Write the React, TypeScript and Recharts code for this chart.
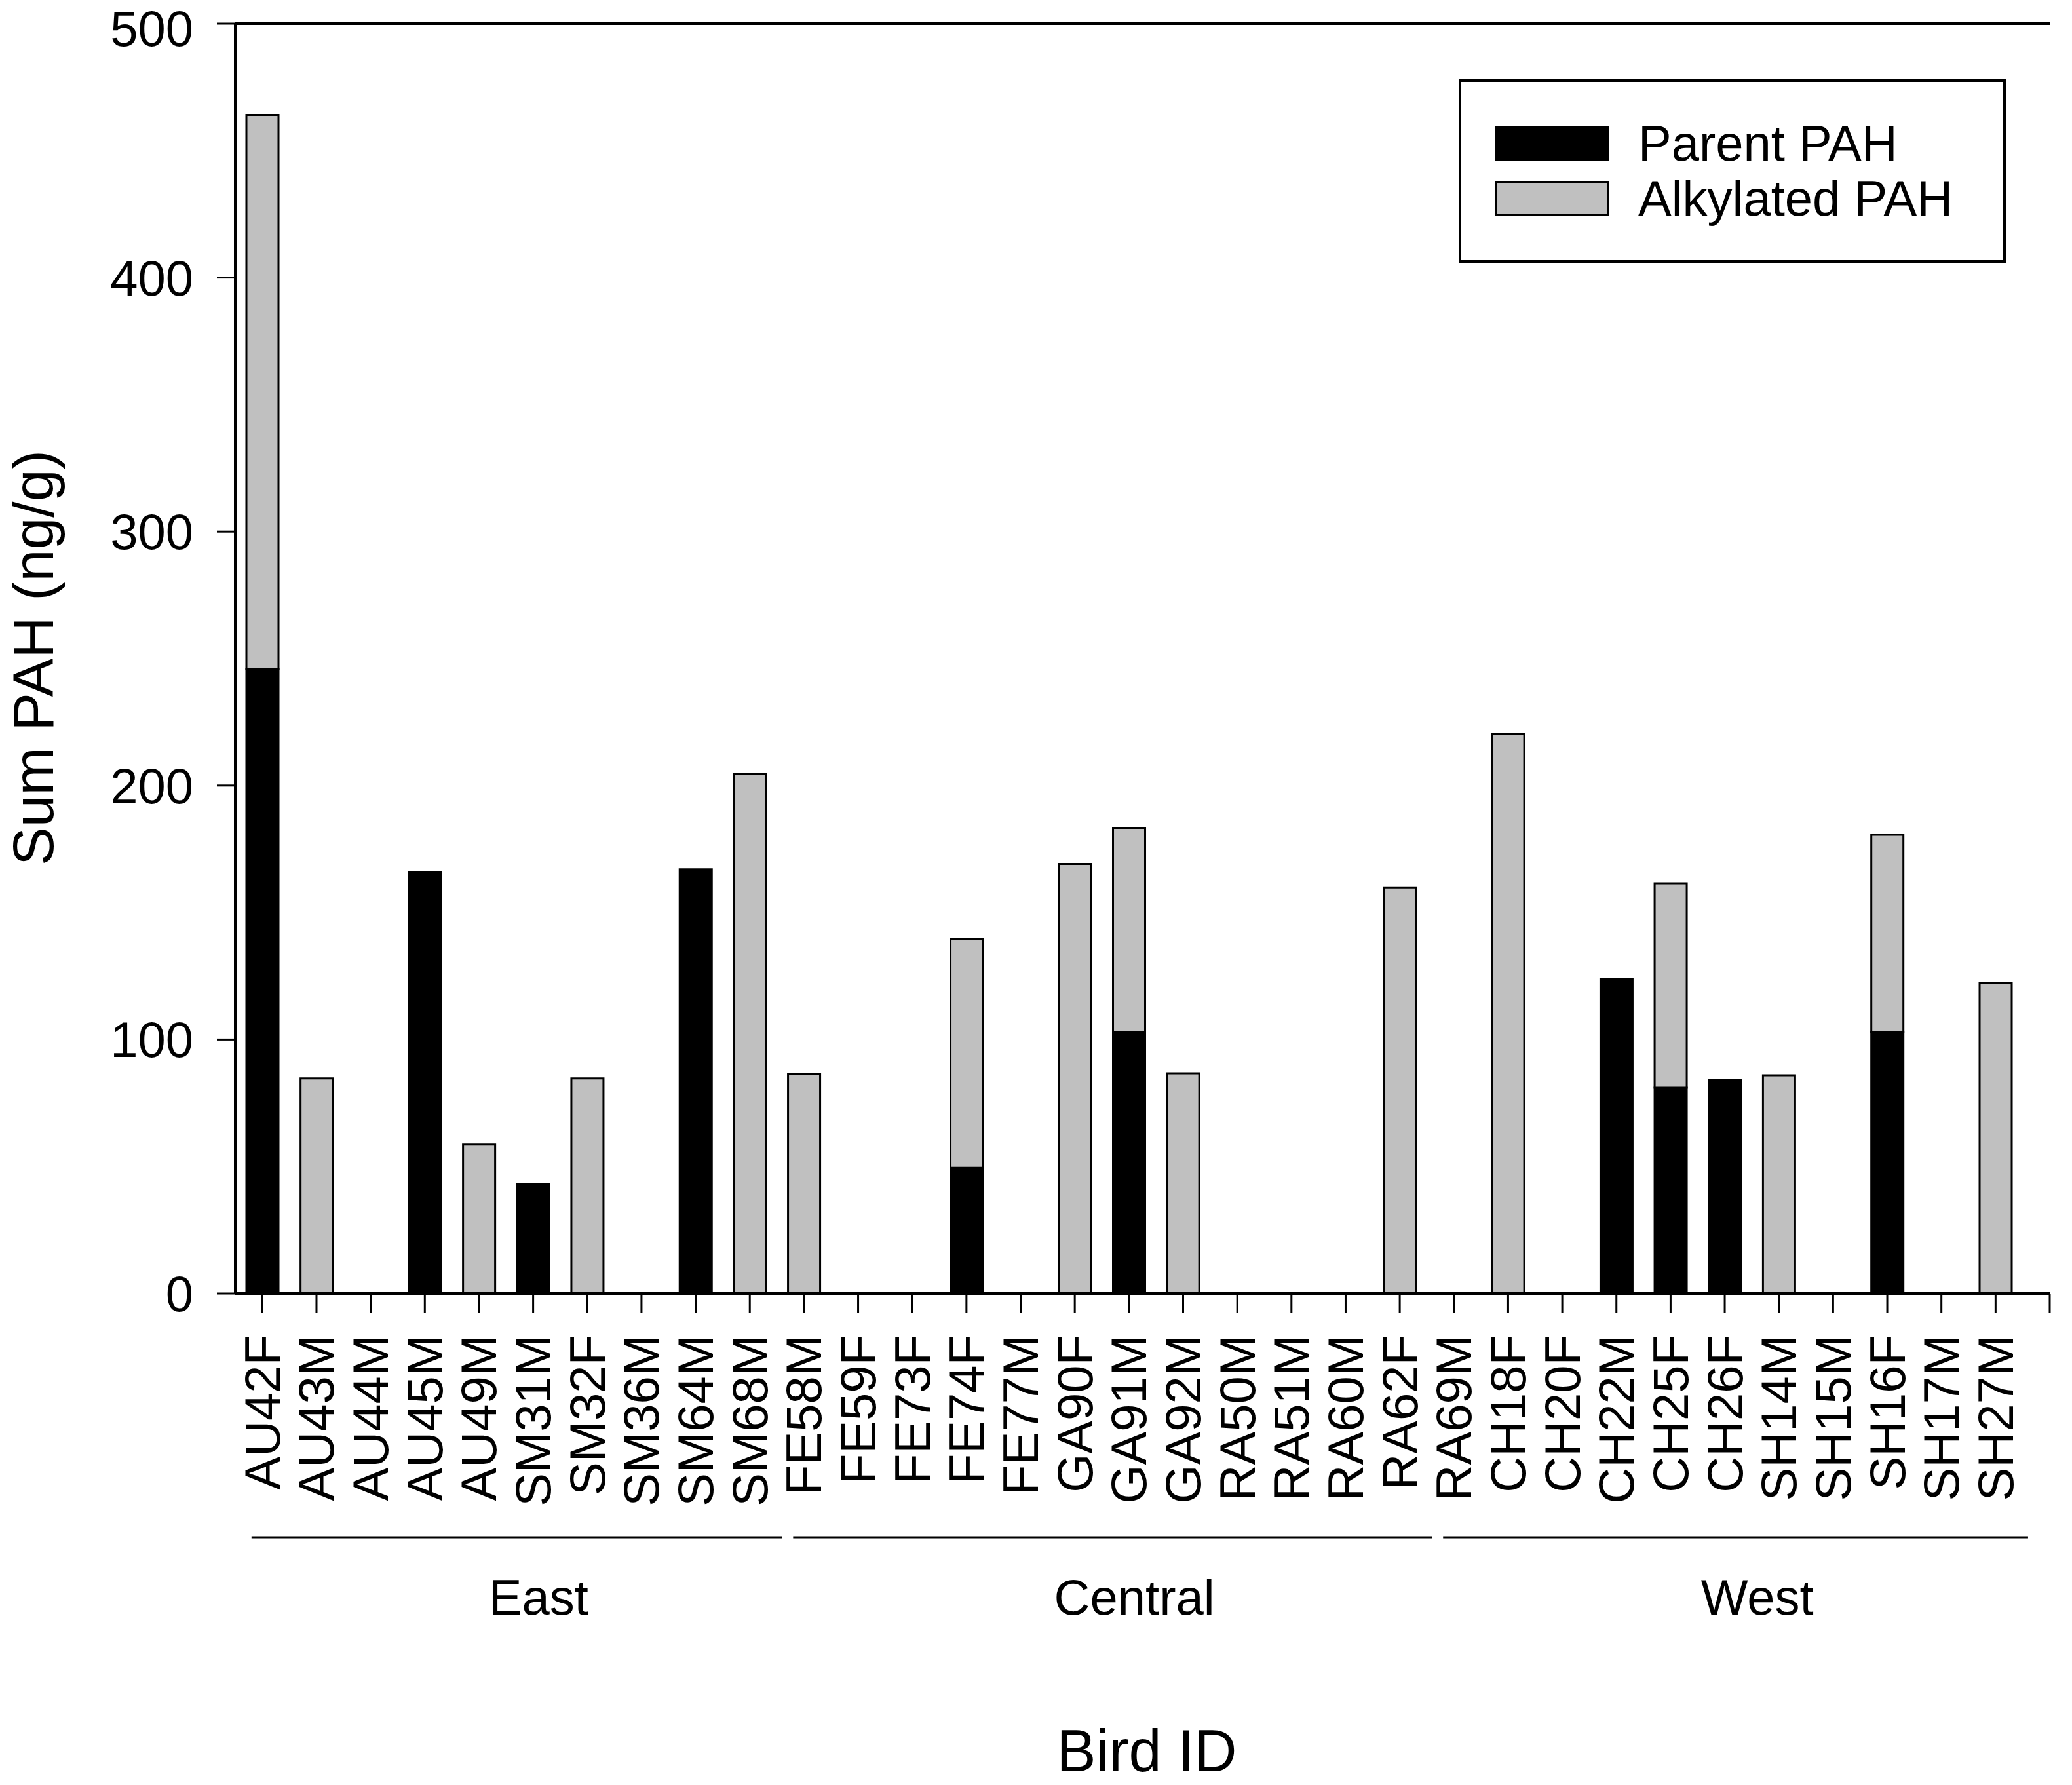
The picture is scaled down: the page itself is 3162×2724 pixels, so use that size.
import React from "react";
import {
  BarChart,
  Bar,
  XAxis,
  YAxis,
  Legend,
  ReferenceLine,
} from "recharts";

// bird IDs, left to right
const birdIds = [
  "AU42F", "AU43M", "AU44M", "AU45M", "AU49M", "SM31M", "SM32F", "SM36M",
  "SM64M", "SM68M", "FE58M", "FE59F", "FE73F", "FE74F", "FE77M", "GA90F",
  "GA91M", "GA92M", "RA50M", "RA51M", "RA60M", "RA62F", "RA69M", "CH18F",
  "CH20F", "CH22M", "CH25F", "CH26F", "SH14M", "SH15M", "SH16F", "SH17M",
  "SH27M",
];

// ng/g
const parentPah = [
  246, 0, 0, 166, 0, 43, 0, 0, 167, 0, 0, 0, 0, 49.5, 0, 0, 103, 0, 0, 0, 0,
  0, 0, 0, 0, 124, 81, 84, 0, 0, 103, 0, 0,
];
const alkylatedPah = [
  218, 84.7, 0, 0, 58.6, 0, 84.7, 0, 0, 204.7, 86.3, 0, 0, 90, 0, 169.1, 80.3,
  86.7, 0, 0, 0, 159.9, 0, 220.3, 0, 0, 80.5, 0, 85.9, 0, 77.6, 0, 122.2,
];

const seriesNames = ["Parent PAH", "Alkylated PAH"];

const regionNames = ["East", "Central", "West"];
const regionFirst = [0, 10, 22];
const regionLast = [9, 21, 32];

const yTicks = [0, 100, 200, 300, 400, 500];

const data = birdIds.map((id, i) => ({
  id,
  parent: parentPah[i],
  alkylated: alkylatedPah[i],
}));

const FONT = "'Liberation Sans', Arial, sans-serif";
const W = 3162;
const H = 2724;
const LEFT = 359;
const RIGHT_MARGIN = 34;
const BAND = (W - RIGHT_MARGIN - LEFT) / (birdIds.length + 0.5);
const TICK_SIZE = 30;
const TICK_MARGIN = 33;

function BirdTick(props: any) {
  const { x, y, payload } = props;
  const i = payload.index;
  const axisY = y - TICK_SIZE - TICK_MARGIN;
  const r = regionFirst.indexOf(i);
  let region = null;
  if (r >= 0) {
    const x0 = x - BAND / 2 + 0.3 * BAND;
    const x1 = x + (regionLast[r] - i + 0.5) * BAND + 0.1 * BAND;
    region = (
      <g>
        <line x1={x0} x2={x1} y1={y + 309} y2={y + 309} stroke="#000" strokeWidth={3} />
        <text
          x={(x0 + x1) / 2 + 0.4 * BAND}
          y={y + 427}
          textAnchor="middle"
          fontSize={76}
          fontFamily={FONT}
          fill="#000"
        >
          {regionNames[r]}
        </text>
      </g>
    );
  }
  return (
    <g>
      <text
        x={x}
        y={y}
        transform={`rotate(-90 ${x} ${y})`}
        textAnchor="end"
        dominantBaseline="central"
        fontSize={76}
        fontFamily={FONT}
        fill="#000"
      >
        {payload.value}
      </text>
      {region}
      {i === birdIds.length - 1 && (
        <line
          x1={x + BAND}
          x2={x + BAND}
          y1={axisY}
          y2={axisY + TICK_SIZE}
          stroke="#000"
          strokeWidth={3}
        />
      )}
    </g>
  );
}

function XTitle() {
  return (
    <text x={1750} y={2703} textAnchor="middle" fontSize={90} fontFamily={FONT} fill="#000">
      Bird ID
    </text>
  );
}

function YTitle() {
  return (
    <text
      x={81}
      y={1004}
      transform="rotate(-90 81 1004)"
      textAnchor="middle"
      fontSize={88}
      fontFamily={FONT}
      fill="#000"
    >
      Sum PAH (ng/g)
    </text>
  );
}

function LegendBox(props: any) {
  const { payload = [] } = props;
  const items = [...payload].sort(
    (a: any, b: any) => seriesNames.indexOf(a.value) - seriesNames.indexOf(b.value)
  );
  return (
    <div
      style={{
        width: 835,
        height: 280,
        boxSizing: "border-box",
        border: "4px solid #000",
        background: "#fff",
        paddingTop: 52,
        paddingLeft: 51,
        fontFamily: FONT,
        fontSize: 76,
        color: "#000",
      }}
    >
      {items.map((entry: any) => (
        <div
          key={entry.value}
          style={{ display: "flex", alignItems: "center", height: 84 }}
        >
          <div
            style={{
              width: 175,
              height: 54,
              boxSizing: "border-box",
              border: "3px solid #000",
              background: entry.color,
            }}
          />
          <span style={{ marginLeft: 44, lineHeight: "84px" }}>{entry.value}</span>
        </div>
      ))}
    </div>
  );
}

export default function App() {
  return (
    <div style={{ position: "absolute", left: 0, top: 0, background: "#fff" }}>
      <BarChart
        width={W}
        height={H}
        data={data}
        margin={{ top: 36, right: RIGHT_MARGIN, bottom: 0, left: 0 }}
        barSize={49}
      >
        <XAxis
          dataKey="id"
          height={H - 1974}
          interval={0}
          tickSize={TICK_SIZE}
          tickMargin={TICK_MARGIN}
          padding={{ left: 0, right: BAND / 2 }}
          axisLine={{ stroke: "#000", strokeWidth: 4 }}
          tickLine={{ stroke: "#000", strokeWidth: 3 }}
          tick={<BirdTick />}
          label={<XTitle />}
        />
        <YAxis
          width={LEFT}
          domain={[0, 500]}
          ticks={yTicks}
          tickSize={28}
          tickMargin={36}
          axisLine={{ stroke: "#000", strokeWidth: 4 }}
          tickLine={{ stroke: "#000", strokeWidth: 3 }}
          tick={{ fill: "#000", fontSize: 76, fontFamily: FONT }}
          label={<YTitle />}
        />
        <YAxis
          yAxisId="frame"
          orientation="right"
          width={0}
          domain={[0, 500]}
          tick={false}
          tickLine={false}
          axisLine={{ stroke: "#000", strokeWidth: 4 }}
        />
        <ReferenceLine y={500} stroke="#000" strokeWidth={4} />
        <Legend
          layout="vertical"
          align="center"
          verticalAlign="middle"
          wrapperStyle={{ left: 2226, top: 121, width: 835, height: 280 }}
          content={<LegendBox />}
        />
        <Bar
          dataKey="parent"
          name={seriesNames[0]}
          stackId="pah"
          fill="#000"
          stroke="#000"
          strokeWidth={3}
          isAnimationActive={false}
        />
        <Bar
          dataKey="alkylated"
          name={seriesNames[1]}
          stackId="pah"
          fill="#C0C0C0"
          stroke="#000"
          strokeWidth={3}
          isAnimationActive={false}
        />
      </BarChart>
    </div>
  );
}
